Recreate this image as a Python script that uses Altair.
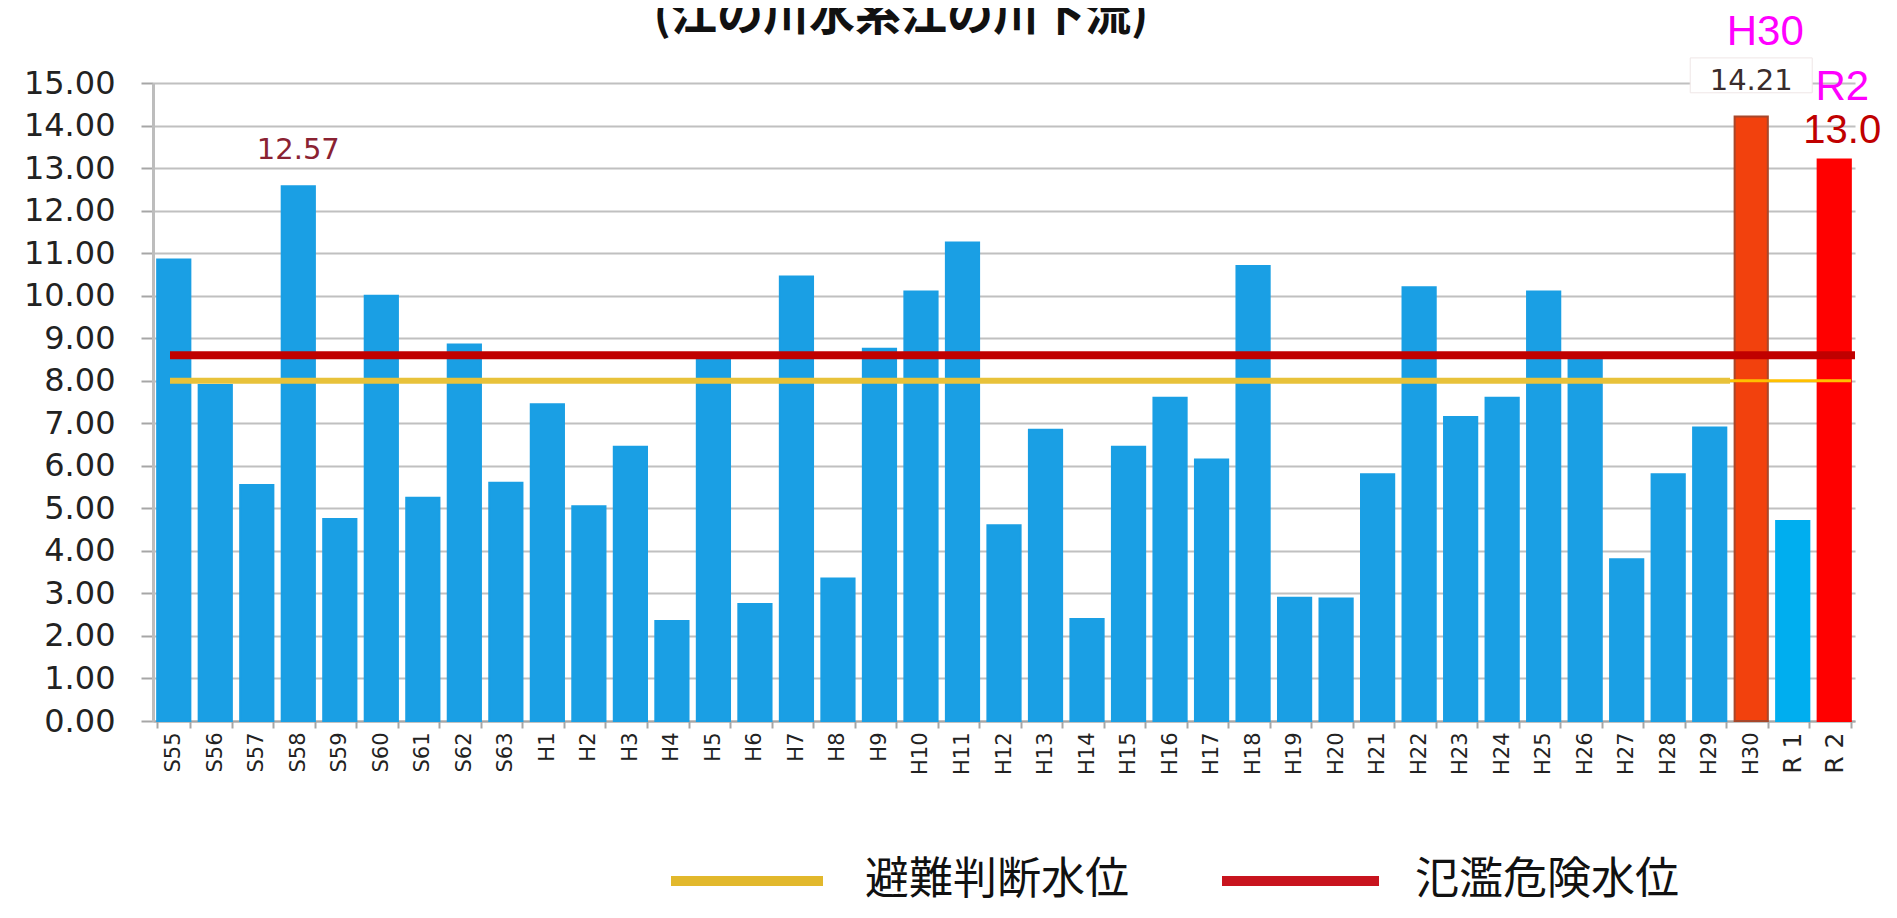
import altair as alt
import pandas as pd

# ---- data ----
categories = ["S55", "S56", "S57", "S58", "S59", "S60", "S61", "S62", "S63",
              "H1", "H2", "H3", "H4", "H5", "H6", "H7", "H8", "H9", "H10",
              "H11", "H12", "H13", "H14", "H15", "H16", "H17", "H18", "H19", "H20",
              "H21", "H22", "H23", "H24", "H25", "H26", "H27", "H28", "H29", "H30",
              "R 1", "R 2"]
values = [10.85, 7.9, 5.55, 12.57, 4.75, 10.0, 5.25, 8.85, 5.6,
          7.45, 5.05, 6.45, 2.35, 8.5, 2.75, 10.45, 3.35, 8.75, 10.1,
          11.25, 4.6, 6.85, 2.4, 6.45, 7.6, 6.15, 10.7, 2.9, 2.88,
          5.8, 10.2, 7.15, 7.6, 10.1, 8.6, 3.8, 5.8, 6.9, 14.21,
          4.7, 13.2]
kinds = ["normal"] * 38 + ["h30", "r1", "r2"]
kind_domain = ["normal", "h30", "r1", "r2"]
kind_colors = ["#1a9fe4", "#f2410d", "#00aeef", "#ff0000"]
kind_strokes = ["#1a9fe4", "#a8472a", "#00aeef", "#ff0000"]

avoid_level = 8.0    # 避難判断水位
danger_level = 8.6   # 氾濫危険水位
legend_labels = ["避難判断水位", "氾濫危険水位"]
title_text = "(江の川水系江の川下流)"

y_ticks = list(range(0, 16))

df = pd.DataFrame({"cat": categories, "val": values, "kind": kinds})

W, H = 1702, 638

xs = alt.X("cat:N", sort=categories,
           scale=alt.Scale(domain=categories, paddingInner=0.2, paddingOuter=0.1),
           axis=alt.Axis(title=None, labelAngle=270, labelFont="DejaVu Sans",
                         labelFontSize={"expr": "datum.value == 'R 1' || datum.value == 'R 2' ? 25 : 21"},
                         labelColor="#222222", tickBand="extent",
                         tickSize=7, tickColor="#a6a6a6", tickWidth=2,
                         domainColor="#a6a6a6", domainWidth=2, labelPadding=4))
ys = alt.Y("val:Q", scale=alt.Scale(domain=[0, 15], nice=False, zero=True),
           axis=alt.Axis(title=None, values=y_ticks, format=".2f", labelFont="DejaVu Sans",
                         labelFontSize=32, labelColor="#222222", tickSize=12,
                         tickColor="#a6a6a6", tickWidth=2, gridColor="#c0c0c0",
                         gridWidth=2, domainColor="#bdbdbd", domainWidth=3,
                         labelPadding=26))

bars = alt.Chart(df).mark_bar(strokeWidth=2).encode(
    x=xs, y=ys,
    color=alt.Color("kind:N", scale=alt.Scale(domain=kind_domain, range=kind_colors), legend=None),
    stroke=alt.Stroke("kind:N", scale=alt.Scale(domain=kind_domain, range=kind_strokes), legend=None),
)

# white box behind the 14.21 label
box_df = pd.DataFrame({"cat": ["H30"], "val": [15.59], "val2": [14.77]})
box = alt.Chart(box_df).mark_bar(color="white", width=122, stroke="#efe6e6", strokeWidth=1).encode(
    x=xs, y=ys, y2="val2:Q")

red_rule = alt.Chart(pd.DataFrame({"val": [danger_level]})).mark_rule(
    color="#c00000", strokeWidth=8).encode(y=ys, x=alt.value(17), x2=alt.value(W))
yellow_rule = alt.Chart(pd.DataFrame({"val": [avoid_level]})).mark_rule(
    color="#e8c23a", strokeWidth=6).encode(y=ys, x=alt.value(17), x2=alt.value(1577))
yellow_thin = alt.Chart(pd.DataFrame({"val": [avoid_level]})).mark_rule(
    color="#ffc000", strokeWidth=3).encode(y=ys, x=alt.value(1577), x2=alt.value(1698))

lab_df = pd.DataFrame({"cat": ["S58", "H30"], "val": [12.57, 14.21], "txt": ["12.57", "14.21"]})
lab1 = alt.Chart(lab_df.iloc[[0]]).mark_text(
    font="DejaVu Sans", fontSize=29, color="#8a2232", dy=-27, baseline="alphabetic").encode(
    x=xs, y=ys, text="txt:N")
lab2 = alt.Chart(lab_df.iloc[[1]]).mark_text(
    font="DejaVu Sans", fontSize=29, color="#3a2c2c", dy=-27, baseline="alphabetic").encode(
    x=xs, y=ys, text="txt:N")

h30_note = alt.Chart(pd.DataFrame({"cat": ["H30"], "val": [14.21], "txt": ["H30"]})).mark_text(
    font="Liberation Sans", fontSize=42, color="#ff00ff", dx=14, dy=-72, baseline="alphabetic").encode(
    x=xs, y=ys, text="txt:N")
r2_note = alt.Chart(pd.DataFrame({"cat": ["R 2"], "val": [13.2], "txt": ["R2"]})).mark_text(
    font="Liberation Sans", fontSize=42, color="#ff00ff", dx=8, dy=-60, baseline="alphabetic").encode(
    x=xs, y=ys, text="txt:N")
r2_val = alt.Chart(pd.DataFrame({"cat": ["R 2"], "val": [13.2], "txt": ["13.0"]})).mark_text(
    font="Liberation Sans", fontSize=40, color="#c00000", dx=8, dy=-17, baseline="alphabetic").encode(
    x=xs, y=ys, text="txt:N")

title = alt.Chart(pd.DataFrame({"t": [title_text]})).mark_text(
    font="Noto Sans CJK JP", fontSize=46, fontWeight="bold", color="#111111",
    baseline="alphabetic", align="center").encode(
    x=alt.value(748), y=alt.value(-53), text="t:N")

leg_y = 798
leg_sw1 = alt.Chart(pd.DataFrame({"a": [0]})).mark_rule(color="#e2b82c", strokeWidth=10).encode(
    x=alt.value(518), x2=alt.value(670), y=alt.value(leg_y))
leg_sw2 = alt.Chart(pd.DataFrame({"a": [0]})).mark_rule(color="#c8141e", strokeWidth=10).encode(
    x=alt.value(1069), x2=alt.value(1226), y=alt.value(leg_y))
leg_t1 = alt.Chart(pd.DataFrame({"t": [legend_labels[0]]})).mark_text(
    font="Noto Sans CJK JP", fontSize=44, color="#111111", align="left", baseline="middle").encode(
    x=alt.value(712), y=alt.value(leg_y), text="t:N")
leg_t2 = alt.Chart(pd.DataFrame({"t": [legend_labels[1]]})).mark_text(
    font="Noto Sans CJK JP", fontSize=44, color="#111111", align="left", baseline="middle").encode(
    x=alt.value(1262), y=alt.value(leg_y), text="t:N")

chart = alt.layer(
    bars, box, yellow_rule, yellow_thin, red_rule, lab1, lab2, h30_note, r2_note, r2_val,
    title, leg_sw1, leg_sw2, leg_t1, leg_t2
).properties(
    width=W, height=H,
    autosize=alt.AutoSizeParams(type="none"),
    padding={"left": 145, "top": 75, "right": 33, "bottom": 189},
    background="white",
).configure_view(stroke=None)

chart.save("out.html", embed_options={"renderer": "svg", "actions": False})
